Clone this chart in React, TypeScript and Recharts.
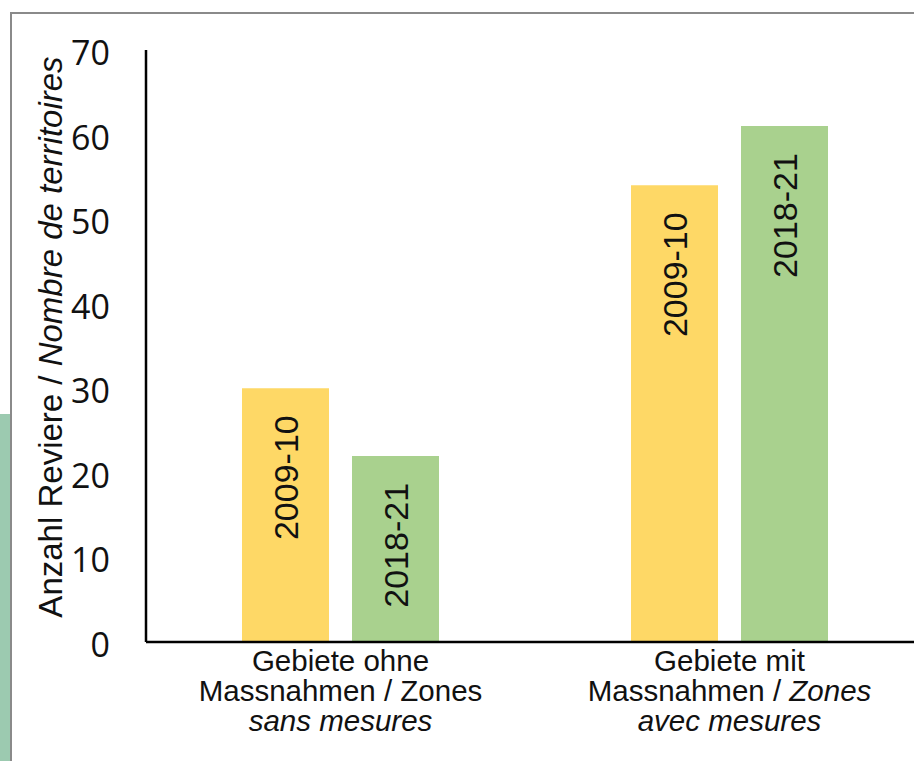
import React from 'react';
import { BarChart, Bar, XAxis, YAxis, LabelList } from 'recharts';

// values
const periods = ['2009-10', '2018-21'];
const categories = ['ohne', 'mit'];
const values2009 = [30, 54];
const values2018 = [22, 61];
const yTicks = [0, 10, 20, 30, 40, 50, 60, 70];

// category label lines, each a list of [text, italic]
const categoryLines: [string, boolean][][][] = [
  [[['Gebiete ohne', false]], [['Massnahmen / Zones', false]], [['sans mesures', true]]],
  [[['Gebiete mit', false]], [['Massnahmen / ', false], ['Zones', true]], [['avec mesures', true]]],
];

const yTitle = 'Anzahl Reviere / ';
const yTitleItalic = 'Nombre de territoires';

const colors = ['#FED866', '#A9D18E'];

const data = categories.map((c, i) => ({
  name: c,
  v2009: values2009[i],
  v2018: values2018[i],
}));

const sans = '"Liberation Sans", Arial, sans-serif';

const YTick = (props: any) => {
  const { x, y, payload } = props;
  return (
    <text x={x} y={y + 15} textAnchor="end" fontFamily='"Open Sans", sans-serif' fontSize={34} fill="#111">
      {payload.value}
    </text>
  );
};

const XTick = (props: any) => {
  const { x, index } = props;
  const lines = categoryLines[index] || [];
  return (
    <text x={x} textAnchor="middle" fontFamily={sans} fontSize={29.5} fill="#111">
      {lines.map((segs, li) => (
        <tspan key={li} x={x} y={671 + li * 30}>
          {segs.map(([t, it], si) => (
            <tspan key={si} fontStyle={it ? 'italic' : 'normal'}>{t}</tspan>
          ))}
        </tspan>
      ))}
    </text>
  );
};

const barLabel = (text: string) => (props: any) => {
  const { x, y, width } = props;
  const cx = x + width / 2;
  return (
    <text
      transform={`translate(${cx},${y + 27}) rotate(-90)`}
      textAnchor="end"
      dy="0.36em"
      fontFamily={sans}
      fontSize={34}
      fill="#111"
    >
      {text}
    </text>
  );
};

const YTitle = () => (
  <text
    transform="translate(50,337) rotate(-90)"
    textAnchor="middle"
    dy="0.36em"
    fontFamily={sans}
    fontSize={33}
    fill="#111"
  >
    <tspan>{yTitle}</tspan>
    <tspan fontStyle="italic">{yTitleItalic}</tspan>
  </text>
);

export default function App() {
  return (
    <div style={{ position: 'absolute', left: 0, top: 0, width: 914, height: 761, overflow: 'hidden', background: '#fff' }}>
      {/* frame bits from the original slide */}
      <div style={{ position: 'absolute', left: 10, top: 12, right: 0, height: 2, background: '#8a8a8a' }} />
      <div style={{ position: 'absolute', left: 10, top: 12, bottom: 0, width: 2, background: '#8a8a8a' }} />
      <div style={{ position: 'absolute', left: 0, top: 414, bottom: 0, width: 10, background: '#9CCAB0' }} />
      <div style={{ position: 'absolute', left: 0, top: 0 }}>
        <BarChart
          width={930}
          height={761}
          data={data}
          margin={{ top: 50, right: 6, bottom: 9, left: 46 }}
          barSize={87}
          barGap={23}
        >
          <XAxis
            dataKey="name"
            height={110}
            axisLine={{ stroke: '#000', strokeWidth: 2.5 }}
            tickLine={false}
            tick={<XTick />}
            interval={0}
          />
          <YAxis
            width={100}
            domain={[0, 70]}
            ticks={yTicks}
            axisLine={{ stroke: '#000', strokeWidth: 2.5 }}
            tickLine={false}
            tickSize={0}
            tickMargin={36}
            tick={<YTick />}
            label={{ content: () => <YTitle /> }}
          />
          <Bar dataKey="v2009" name={periods[0]} fill={colors[0]} isAnimationActive={false}>
            <LabelList dataKey="v2009" content={barLabel(periods[0])} />
          </Bar>
          <Bar dataKey="v2018" name={periods[1]} fill={colors[1]} isAnimationActive={false}>
            <LabelList dataKey="v2018" content={barLabel(periods[1])} />
          </Bar>
        </BarChart>
      </div>
    </div>
  );
}
